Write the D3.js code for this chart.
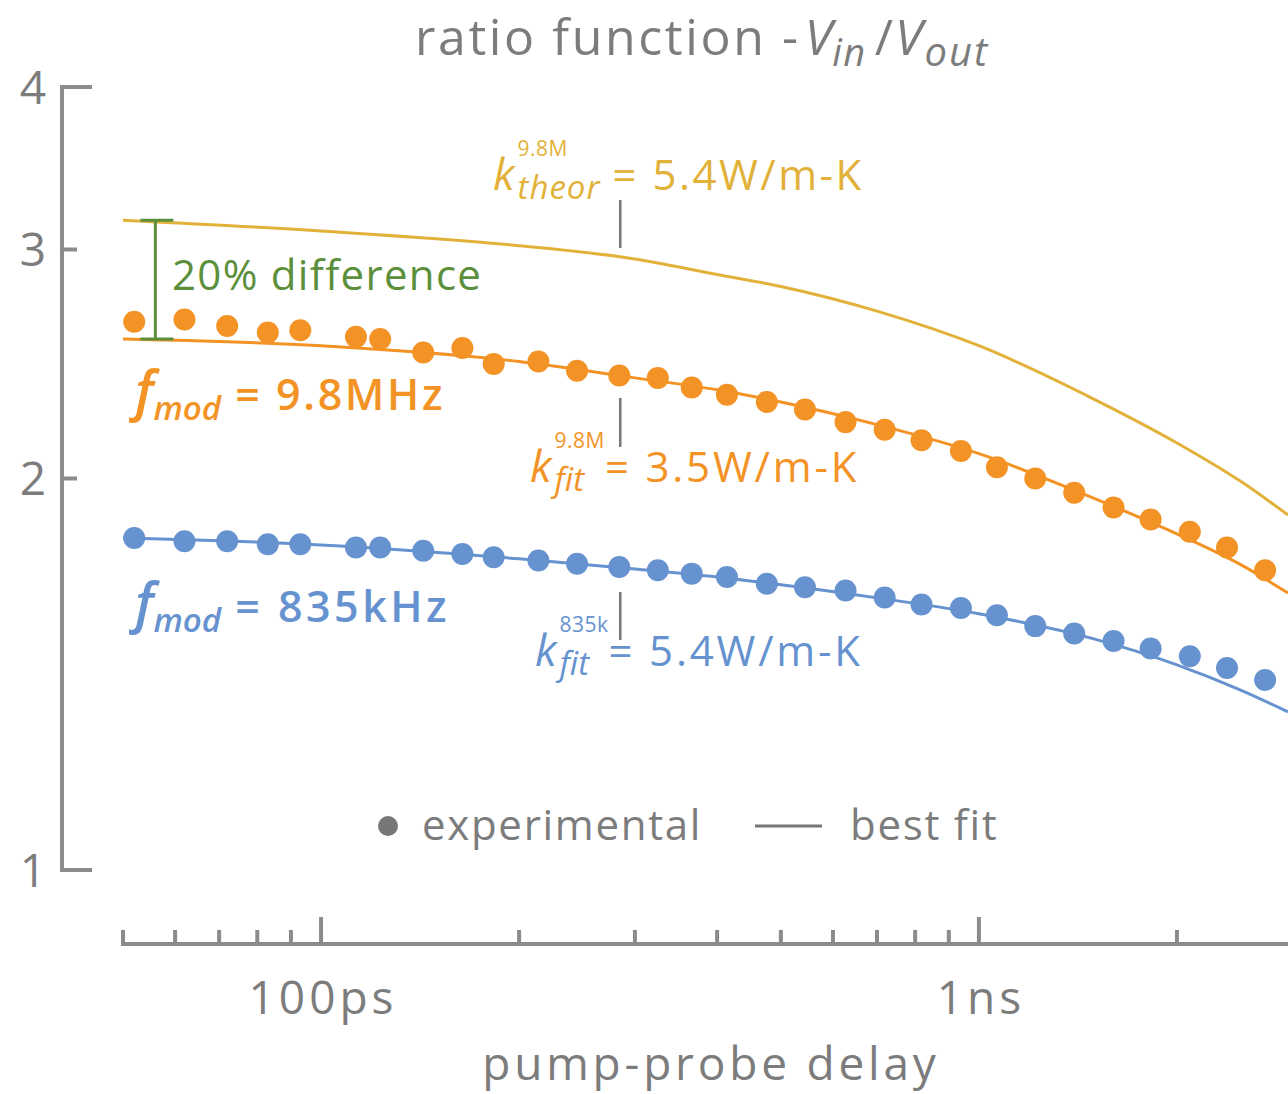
<!DOCTYPE html>
<html>
<head>
<meta charset="utf-8">
<script src="https://cdn.jsdelivr.net/npm/d3@7"></script>
<style>
  html, body { margin: 0; padding: 0; background: #fff; }
  svg { display: block; }
</style>
</head>
<body>
<div id="chart"></div>
<script>
// pump-probe delays (ps) of the measured points
const delays = [52, 62, 72, 83, 93, 113, 123, 143, 164, 183, 214, 245, 284, 325, 366,
  414, 476, 544, 627, 719, 818, 939, 1065, 1218, 1396, 1602, 1824, 2092, 2383, 2723];
// measured ratio -Vin/Vout
const ratio98M = [2.64, 2.65, 2.62, 2.59, 2.60, 2.57, 2.56, 2.50, 2.52, 2.45, 2.46, 2.42, 2.40, 2.39, 2.35,
  2.32, 2.29, 2.26, 2.21, 2.18, 2.14, 2.10, 2.04, 2.00, 1.95, 1.90, 1.86, 1.82, 1.77, 1.70];
const ratio835k = [1.80, 1.79, 1.79, 1.78, 1.78, 1.77, 1.77, 1.76, 1.75, 1.74, 1.73, 1.72, 1.71, 1.70, 1.69,
  1.68, 1.66, 1.65, 1.64, 1.62, 1.60, 1.59, 1.57, 1.54, 1.52, 1.50, 1.48, 1.46, 1.43, 1.40];

const fitDelays = [50, 100, 200, 300, 400, 500, 700, 1000, 1500, 2000, 2500, 2950];
const theory98M = [3.16, 3.10, 3.02, 2.95, 2.87, 2.81, 2.69, 2.53, 2.30, 2.13, 1.99, 1.875];
const fit98M = [2.56, 2.53, 2.46, 2.39, 2.34, 2.29, 2.20, 2.09, 1.93, 1.813, 1.717, 1.633];
const fit835k = [1.80, 1.778, 1.735, 1.704, 1.68, 1.657, 1.619, 1.574, 1.505, 1.438, 1.375, 1.323];

const xTicks = [50, 60, 70, 80, 90, 100, 200, 300, 400, 500, 600, 700, 800, 900, 1000, 2000];
const xMajor = [100, 1000];
const xLabels = { 100: '100ps', 1000: '1ns' };
const yTicks = [1, 2, 3, 4];

const width = 1288, height = 1094;
const FONT = "'Open Sans', 'Noto Sans', sans-serif";
const gray = '#7c7c7c';
const axisGray = '#8b8b8b';
const orange = '#f39326';
const blue = '#6693cf';
const gold = '#e2b13a';
const green = '#5c8f3b';

const x = d3.scaleLog().domain([50, 2950]).range([123, 1288]);
const y = d3.scaleLog().domain([1, 4]).range([870, 87]);

const svg = d3.select('#chart').append('svg')
  .attr('width', width)
  .attr('height', height)
  .attr('font-family', FONT);

// draws a run of text pieces one after another; a piece with "stack" shares
// its start with the previous piece (sup + sub under each other)
function richText(g, x0, y0, parts, color, weight) {
  let cursor = x0, stackStart = x0, stackWidth = 0;
  parts.forEach(p => {
    const start = p.stack ? stackStart : cursor;
    const t = g.append('text')
      .attr('x', start)
      .attr('y', y0 + (p.dy || 0))
      .attr('fill', color)
      .attr('font-size', p.size)
      .attr('font-weight', weight || 400)
      .attr('letter-spacing', p.ls || 0)
      .attr('font-style', p.italic ? 'italic' : 'normal')
      .text(p.t);
    const w = t.node().getComputedTextLength();
    if (p.stack) {
      stackWidth = Math.max(stackWidth, w);
      cursor = stackStart + stackWidth + (p.gap || 0);
    } else {
      stackStart = start;
      stackWidth = w;
      cursor = start + w + (p.gap || 0);
    }
  });
}

// title
richText(svg, 415, 55, [
  { t: 'ratio function -', size: 50, ls: 2.6, gap: 4 },
  { t: 'V', size: 50, italic: true },
  { t: 'in', size: 38, italic: true, dy: 11, ls: 1.5, gap: 8 },
  { t: '/', size: 50, gap: 2 },
  { t: 'V', size: 50, italic: true, gap: 2 },
  { t: 'out', size: 40, italic: true, dy: 11, ls: 2 }
], gray);

// y axis (bracket style)
const yAxis = svg.append('g').attr('stroke', axisGray).attr('stroke-width', 4).attr('fill', 'none');
yAxis.append('line').attr('x1', 62).attr('x2', 62).attr('y1', y(4) - 2).attr('y2', y(1) + 2);
yAxis.selectAll('line.tick')
  .data(yTicks)
  .join('line')
  .attr('class', 'tick')
  .attr('x1', 60)
  .attr('x2', d => (d === 1 || d === 4 ? 92 : 77))
  .attr('y1', d => y(d))
  .attr('y2', d => y(d));
svg.append('g')
  .selectAll('text')
  .data(yTicks)
  .join('text')
  .attr('x', 46)
  .attr('y', d => y(d))
  .attr('dy', '0.36em')
  .attr('text-anchor', 'end')
  .attr('font-size', 46)
  .attr('fill', gray)
  .text(d => d);

// x axis
const axisY = 944;
const xAxis = svg.append('g').attr('stroke', axisGray).attr('stroke-width', 4);
xAxis.append('line').attr('x1', 121).attr('x2', width).attr('y1', axisY).attr('y2', axisY);
xAxis.selectAll('line.tick')
  .data(xTicks)
  .join('line')
  .attr('class', 'tick')
  .attr('x1', d => x(d))
  .attr('x2', d => x(d))
  .attr('y1', axisY)
  .attr('y2', d => (xMajor.includes(d) ? axisY - 27 : axisY - 14));
svg.append('g')
  .selectAll('text')
  .data(xMajor)
  .join('text')
  .attr('x', d => x(d) + 2)
  .attr('y', 1014)
  .attr('text-anchor', 'middle')
  .attr('font-size', 46)
  .attr('letter-spacing', 4)
  .attr('fill', gray)
  .text(d => xLabels[d]);
svg.append('text')
  .attr('x', 711)
  .attr('y', 1080)
  .attr('text-anchor', 'middle')
  .attr('font-size', 46)
  .attr('letter-spacing', 3.8)
  .attr('fill', gray)
  .text('pump-probe delay');

// curves
const line = d3.line()
  .x(d => x(d[0]))
  .y(d => y(d[1]))
  .curve(d3.curveMonotoneX);

const curves = [
  { vals: theory98M, color: gold },
  { vals: fit98M, color: orange },
  { vals: fit835k, color: blue }
];
svg.append('g')
  .attr('fill', 'none')
  .attr('stroke-width', 3)
  .selectAll('path')
  .data(curves)
  .join('path')
  .attr('stroke', d => d.color)
  .attr('d', d => line(fitDelays.map((t, i) => [t, d.vals[i]])));

// points
const series = [
  { vals: ratio98M, color: orange },
  { vals: ratio835k, color: blue }
];
series.forEach(s => {
  svg.append('g')
    .attr('fill', s.color)
    .selectAll('circle')
    .data(delays.map((t, i) => [t, s.vals[i]]))
    .join('circle')
    .attr('cx', d => x(d[0]))
    .attr('cy', d => y(d[1]))
    .attr('r', 11);
});

// 20% difference bracket
const bx = x(56);
const bTop = y(theory98M[0]), bBot = y(fit98M[0]);
const br = svg.append('g').attr('stroke', green).attr('stroke-width', 3);
br.append('line').attr('x1', bx).attr('x2', bx).attr('y1', bTop).attr('y2', bBot);
br.append('line').attr('x1', bx - 15).attr('x2', bx + 18).attr('y1', bTop).attr('y2', bTop);
br.append('line').attr('x1', bx - 15).attr('x2', bx + 18).attr('y1', bBot).attr('y2', bBot);
svg.append('text')
  .attr('x', 172)
  .attr('y', 290)
  .attr('font-size', 42)
  .attr('font-weight', 500)
  .attr('letter-spacing', 1.3)
  .attr('fill', green)
  .text('20% difference');

// leader lines for the k annotations
const lx = x(285);
const leaders = [[200, 248], [398, 447], [592, 640]];
svg.append('g')
  .attr('stroke', '#777')
  .attr('stroke-width', 2.5)
  .selectAll('line')
  .data(leaders)
  .join('line')
  .attr('x1', lx)
  .attr('x2', lx)
  .attr('y1', d => d[0])
  .attr('y2', d => d[1]);

// annotations
richText(svg, 493, 190, [
  { t: 'k', size: 44, italic: true, gap: 3 },
  { t: '9.8M', size: 21, dy: -34, ls: 0.5 },
  { t: 'theor', size: 33, italic: true, dy: 9, ls: 1, stack: true, gap: 12 },
  { t: '= 5.4W/m-K', size: 42, ls: 2.5 }
], gold);
richText(svg, 530, 482, [
  { t: 'k', size: 44, italic: true, gap: 3 },
  { t: '9.8M', size: 21, dy: -34, ls: 0.5 },
  { t: 'fit', size: 33, italic: true, dy: 9, stack: true, gap: 0 },
  { t: '= 3.5W/m-K', size: 42, ls: 2.8 }
], orange);
richText(svg, 535, 666, [
  { t: 'k', size: 44, italic: true, gap: 3 },
  { t: '835k', size: 21, dy: -34, ls: 0.5 },
  { t: 'fit', size: 33, italic: true, dy: 9, stack: true, gap: 0 },
  { t: '= 5.4W/m-K', size: 42, ls: 2.8 }
], blue);

richText(svg, 135, 410, [
  { t: 'f', size: 54, italic: true },
  { t: 'mod', size: 33, italic: true, dy: 10, gap: 14 },
  { t: '= 9.8MHz', size: 43, ls: 2.6 }
], orange, 600);
richText(svg, 135, 622, [
  { t: 'f', size: 54, italic: true },
  { t: 'mod', size: 33, italic: true, dy: 10, gap: 14 },
  { t: '= 835kHz', size: 43, ls: 3.5 }
], blue, 600);

// legend
const lg = svg.append('g');
lg.append('circle').attr('cx', 388).attr('cy', 826).attr('r', 10).attr('fill', '#777');
lg.append('text').attr('x', 422).attr('y', 840).attr('font-size', 42).attr('letter-spacing', 1.7)
  .attr('fill', gray).text('experimental');
lg.append('line').attr('x1', 755).attr('x2', 822).attr('y1', 826).attr('y2', 826)
  .attr('stroke', '#777').attr('stroke-width', 3);
lg.append('text').attr('x', 850).attr('y', 840).attr('font-size', 42).attr('letter-spacing', 1.7)
  .attr('fill', gray).text('best fit');
</script>
</body>
</html>
